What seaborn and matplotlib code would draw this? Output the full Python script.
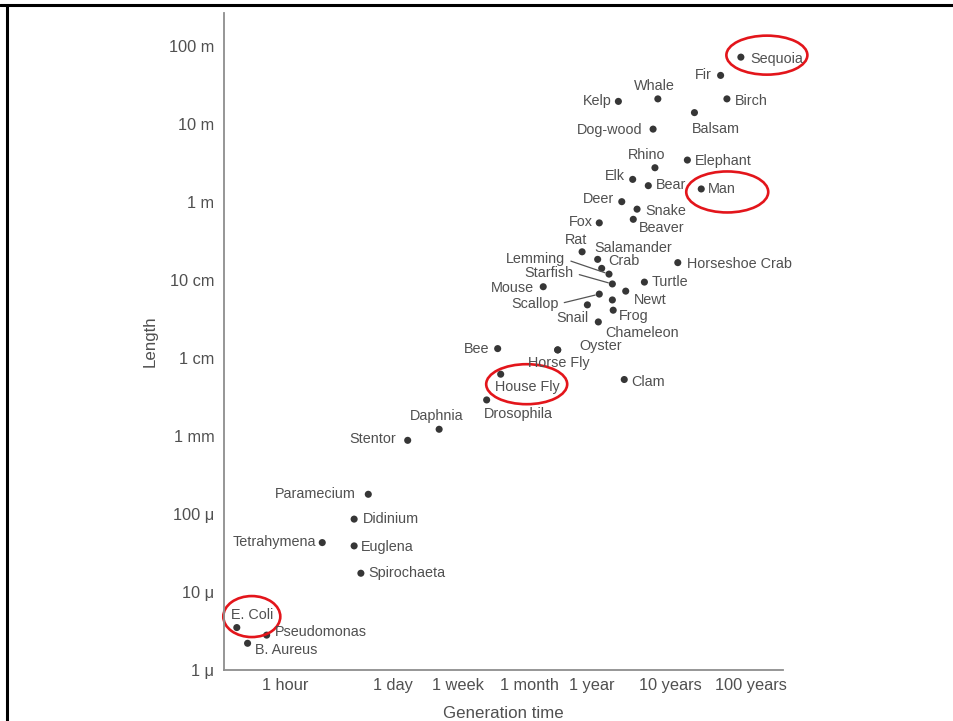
import matplotlib
matplotlib.use("Agg")
import matplotlib.pyplot as plt
import matplotlib.transforms as mtransforms
from matplotlib.patches import Ellipse
from matplotlib.lines import Line2D
import pandas as pd
import seaborn as sns

# Organisms: generation time (hours) and body length (metres)
organisms = [
    "Sequoia", "Fir", "Whale", "Kelp", "Birch", "Balsam", "Dog-wood", "Rhino",
    "Elephant", "Elk", "Bear", "Man", "Deer", "Snake", "Fox", "Beaver",
    "Rat", "Salamander", "Crab", "Lemming", "Starfish", "Mouse", "Scallop",
    "Turtle", "Newt", "", "Frog", "Snail", "Chameleon", "Horseshoe Crab",
    "Bee", "Horse Fly", "Oyster", "House Fly", "Clam", "Drosophila", "Daphnia",
    "Stentor", "Paramecium", "Didinium", "Tetrahymena", "Euglena",
    "Spirochaeta", "E. Coli", "Pseudomonas", "B. Aureus",
]
generation_hours = [
    7.1e5, 3.9e5, 6.1e4, 1.9e4, 4.7e5, 1.8e5, 5.3e4, 5.6e4,
    1.46e5, 2.9e4, 4.6e4, 2.2e5, 2.1e4, 3.3e4, 1.08e4, 2.95e4,
    6.5e3, 1.03e4, 1.16e4, 1.44e4, 1.59e4, 2.06e3, 1.08e4,
    4.1e4, 2.36e4, 1.59e4, 1.63e4, 7.6e3, 1.05e4, 1.1e5,
    536, 3.16e3, 3.16e3, 586, 2.26e4, 387, 95,
    37.5, 11.7, 7.7, 3.0, 7.7,
    9.4, 0.24, 0.58, 0.33,
]
length_m = [
    72, 42, 21, 19.5, 21, 14, 8.6, 2.75,
    3.45, 1.95, 1.62, 1.47, 1.01, 0.81, 0.54, 0.60,
    0.23, 0.184, 0.141, 0.119, 0.089, 0.082, 0.066,
    0.094, 0.072, 0.0555, 0.041, 0.048, 0.029, 0.167,
    0.0132, 0.0127, 0.0127, 0.0062, 0.0053, 0.0029, 0.00122,
    8.8e-4, 1.79e-4, 8.6e-5, 4.3e-5, 3.9e-5,
    1.74e-5, 3.5e-6, 2.8e-6, 2.2e-6,
]

time_ticks = [1, 24, 168, 730, 8766, 87660, 876600]
time_labels = ["1 hour", "1 day", "1 week", "1 month", "1 year",
               "10 years", "100 years"]
length_ticks = [1e-6, 1e-5, 1e-4, 1e-3, 1e-2, 1e-1, 1, 10, 100]
length_labels = ["1 μ", "10 μ", "100 μ", "1 mm", "1 cm", "10 cm",
                 "1 m", "10 m", "100 m"]
highlighted = ["Sequoia", "Man", "House Fly", "E. Coli"]

df = pd.DataFrame({"organism": organisms,
                   "generation": generation_hours,
                   "length": length_m})

# label placement: offset from the dot in pixels (x right, y up) and alignment
label_layout = {
    "Sequoia": (9, -2, "left"), "Fir": (-9, 0, "right"),
    "Whale": (-3, 13, "center"), "Kelp": (-7, 0, "right"),
    "Birch": (8, -2, "left"), "Balsam": (-3, -16, "left"),
    "Dog-wood": (-11, -1, "right"), "Rhino": (-8, 13, "center"),
    "Elephant": (8, -1, "left"), "Elk": (-8, 3, "right"),
    "Bear": (8, 1, "left"), "Man": (7, 0, "left"),
    "Deer": (-8, 3, "right"), "Snake": (8, -2, "left"),
    "Fox": (-6, 1, "right"), "Beaver": (6, -9, "left"),
    "Rat": (-6, 12, "center"), "Salamander": (-3, 11, "left"),
    "Crab": (7, 7, "left"), "Lemming": (-44, 15, "right"),
    "Starfish": (-39, 11, "right"), "Mouse": (-9, -1, "right"),
    "Scallop": (-41, -10, "right"), "Turtle": (7, 0, "left"),
    "Newt": (8, -9, "left"), "Frog": (6, -6, "left"),
    "Snail": (1, -13, "right"), "Chameleon": (7, -11, "left"),
    "Horseshoe Crab": (9, -1, "left"), "Bee": (-8, 0, "right"),
    "Horse Fly": (1, -13, "center"), "Oyster": (22, 4, "left"),
    "House Fly": (27, -13, "center"), "Clam": (7, -2, "left"),
    "Drosophila": (-3, -14, "left"), "Daphnia": (-2, 13, "center"),
    "Stentor": (-12, 1, "right"), "Paramecium": (-13, 0, "right"),
    "Didinium": (9, 0, "left"), "Tetrahymena": (-6, 1, "right"),
    "Euglena": (7, -1, "left"), "Spirochaeta": (7, 0, "left"),
    "E. Coli": (-6, 13, "left"), "Pseudomonas": (8, 3, "left"),
    "B. Aureus": (7, -7, "left"),
}
leader = {"Lemming", "Starfish", "Scallop"}

# red rings: centre offset from dot (px) and size (px)
rings = {
    "Sequoia": (26, 2, 81, 39),
    "Man": (26, -3, 82, 41),
    "House Fly": (26, -10, 81, 40),
    "E. Coli": (15, 11, 57, 41),
}

# small horizontal nudges (px) for crowded time-axis labels
tick_label_nudge = {"1 month": 21, "100 years": 3}

sns.set_theme(style="white")
plt.rcParams["font.family"] = ["Liberation Sans", "DejaVu Sans"]

W, H = 954, 721
fig = plt.figure(figsize=(W / 100, H / 100), dpi=100)
ax = fig.add_axes([224 / W, 51 / H, 559 / W, 657 / H])

sns.scatterplot(data=df, x="generation", y="length", ax=ax,
                color="#363636", s=26, edgecolor="none", legend=False)

ax.set_xscale("log")
ax.set_yscale("log")
ax.set_xlim(0.1644, 2.466e6)
ax.set_ylim(1e-6, 265)
ax.minorticks_off()
ax.set_xticks(time_ticks)
ax.set_xticklabels(time_labels)
ax.set_yticks(length_ticks)
ax.set_yticklabels(length_labels)

grey = "#8e8e8e"
text_grey = "#505050"
for side in ("top", "right"):
    ax.spines[side].set_visible(False)
for side in ("left", "bottom"):
    ax.spines[side].set_color(grey)
    ax.spines[side].set_linewidth(1.3)
ax.tick_params(axis="both", direction="in", length=7.5, width=1.2,
               color=grey, labelcolor=text_grey, labelsize=11.8)
ax.tick_params(axis="y", pad=7)
ax.tick_params(axis="x", pad=6)
ax.set_xlabel("Generation time", fontsize=12.2, color=text_grey, labelpad=9)
ax.set_ylabel("Length", fontsize=12.2, color=text_grey, labelpad=8)

for lab in ax.get_xticklabels():
    shift = tick_label_nudge.get(lab.get_text())
    if shift:
        lab.set_transform(lab.get_transform() + mtransforms.ScaledTranslation(
            shift / 100, 0, fig.dpi_scale_trans))

pt = 0.72  # points per pixel at 100 dpi
for name, gx, ly in zip(organisms, generation_hours, length_m):
    if not name:
        continue
    dx, dy, ha = label_layout[name]
    arrow = None
    if name in leader:
        arrow = dict(arrowstyle="-", color="#555555", lw=0.9,
                     shrinkA=2, shrinkB=3, relpos=(1.0, 0.5))
    ax.annotate(name, (gx, ly), xytext=(dx * pt, dy * pt),
                textcoords="offset points", ha=ha, va="center",
                fontsize=10.4, color=text_grey, arrowprops=arrow)

for name, (dx, dy, w, h) in rings.items():
    i = organisms.index(name)
    trans = fig.dpi_scale_trans + mtransforms.ScaledTranslation(
        generation_hours[i], length_m[i], ax.transData)
    ax.add_patch(Ellipse((dx / 100, dy / 100), w / 100, h / 100,
                         transform=trans, fill=False, edgecolor="#e3151b",
                         lw=1.9, clip_on=False))

# page frame: rule across the top and down the left edge
frame = dict(color="black", lw=2.2, transform=fig.transFigure)
fig.add_artist(Line2D([0, 1], [1 - 5 / H, 1 - 5 / H], **frame))
fig.add_artist(Line2D([7 / W, 7 / W], [0, 1 - 5 / H], **frame))

fig.savefig("out.png", dpi=100)
